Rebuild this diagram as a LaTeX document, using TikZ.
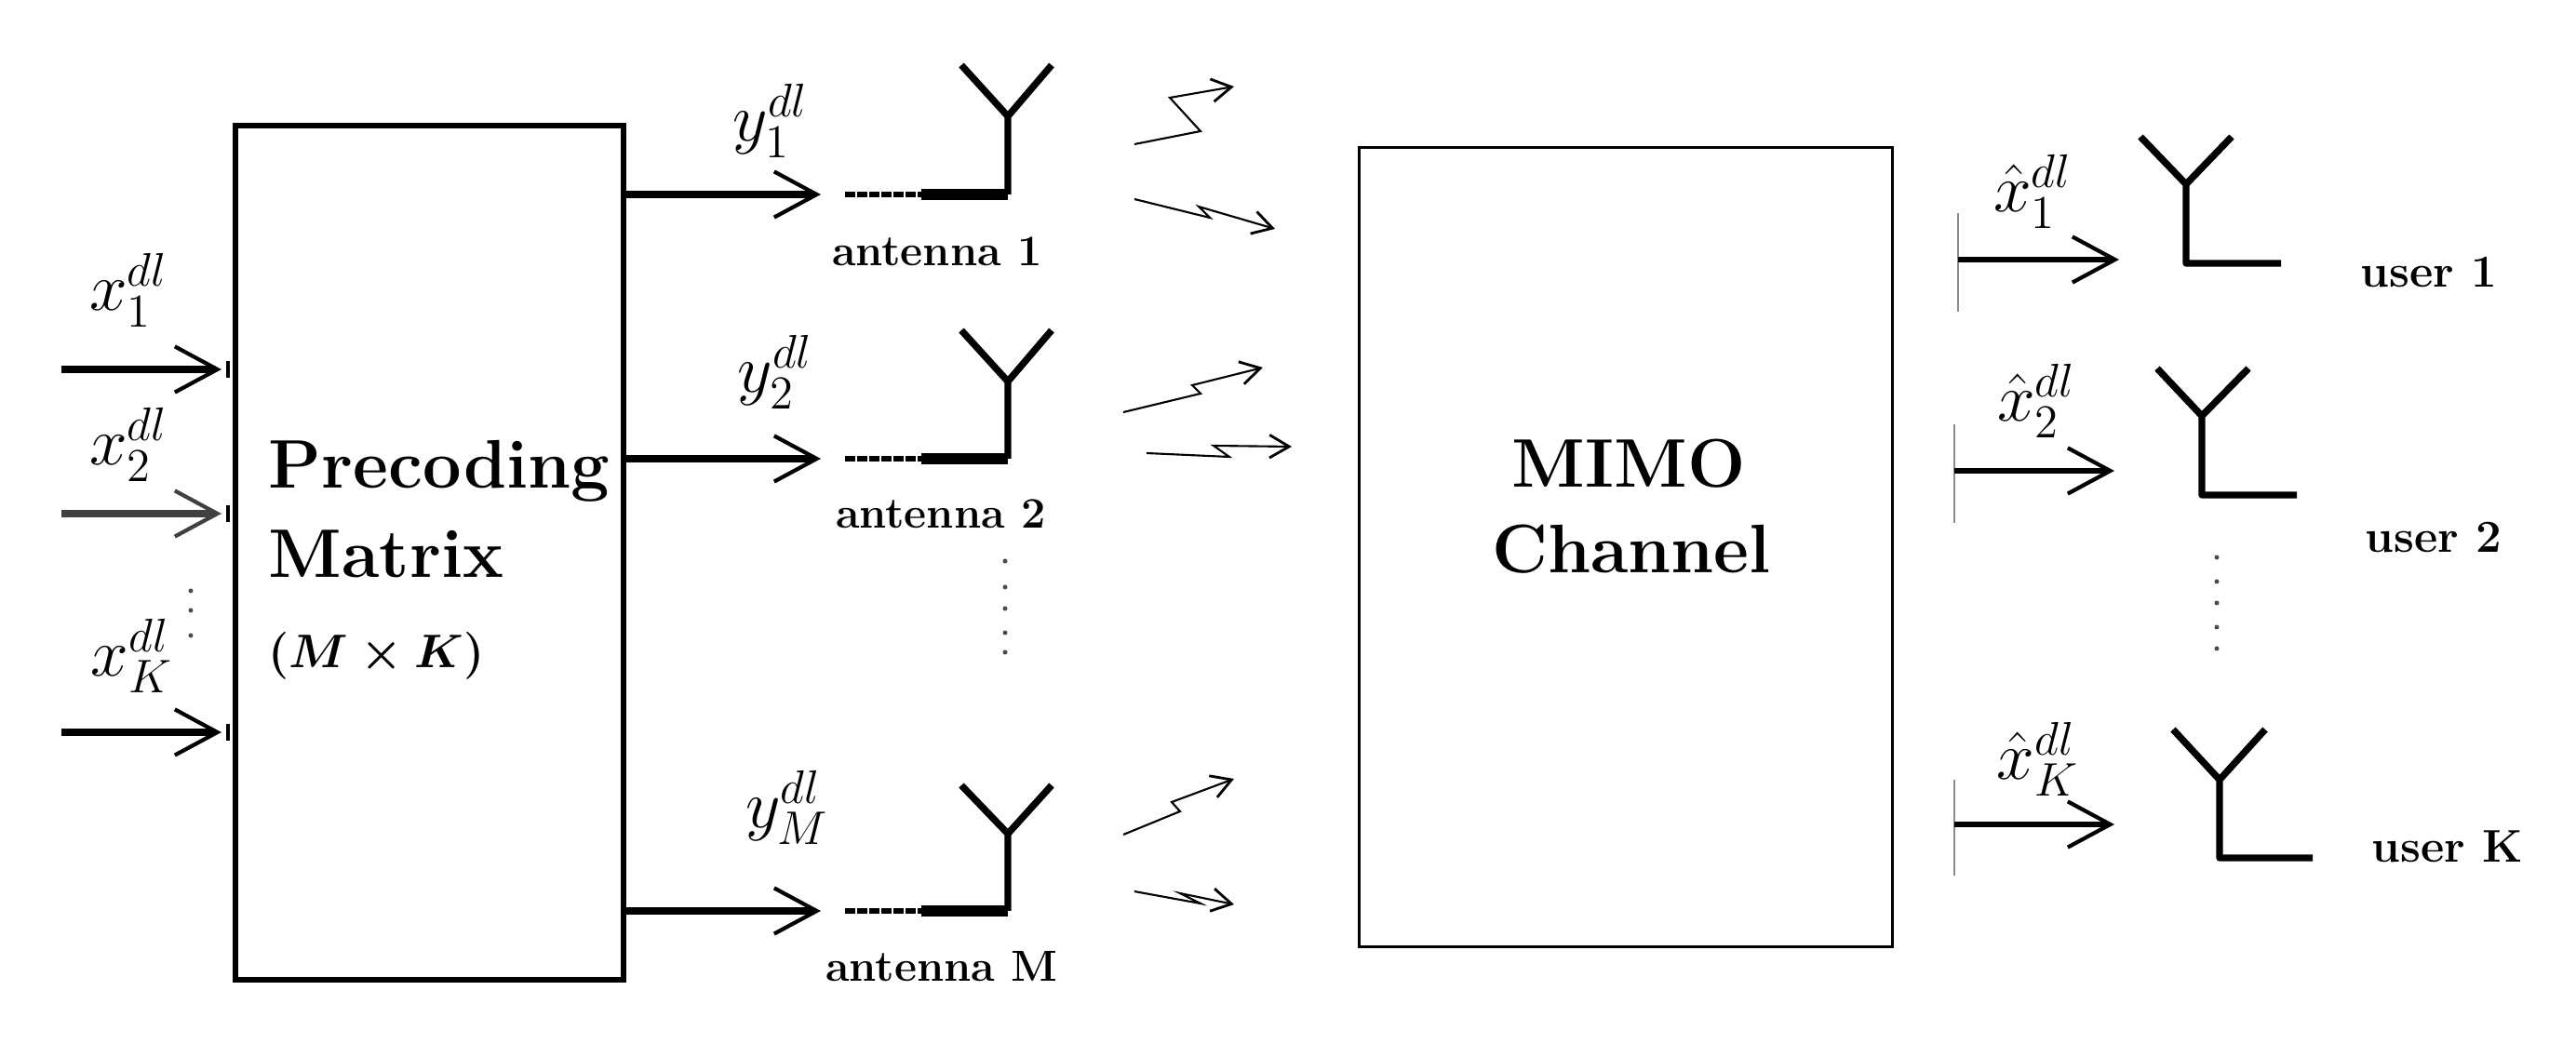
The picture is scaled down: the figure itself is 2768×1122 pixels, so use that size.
\documentclass[tikz,border=0pt]{standalone}
\usetikzlibrary{arrows.meta}

\tikzset{
    block/.style={draw, rectangle, inner sep=0pt},
    blocktext/.style={font=\bfseries\fontsize{21}{25}\selectfont, inner sep=0pt, anchor=base west},
    sigtext/.style={font=\fontsize{20}{24}\selectfont, inner sep=0pt},
    nametext/.style={font=\bfseries\fontsize{14}{17}\selectfont, inner sep=0pt, anchor=base},
    antname/.style={font=\bfseries\fontsize{13.3}{16}\selectfont, inner sep=0pt, anchor=base},
    feed/.style={line width=2.2pt, -{Straight Barb[length=13pt, width=14pt, line width=1.2pt]}},
    radio/.style={line width=.6pt, -{Straight Barb[length=6pt, width=7pt, line width=.8pt]}},
    mast/.style={line width=2.1pt, line join=round},
    stub/.style={line width=3.2pt},
    dotted stub/.style={line width=1.6pt, dash pattern=on 3pt off .7pt},
    tick/.style={line width=.5pt, black!45},
    spot/.style={fill=black!70}
}

\begin{document}
\begin{tikzpicture}[x=.01cm, y=-.01cm]
\useasboundingbox (0,0) rectangle (2768,1122);

% boxes
\node[block, line width=1.7pt, minimum width=4.17cm, minimum height=9.18cm] (precoding) at (461.5,594) {};
\node[block, line width=.9pt, minimum width=5.72cm, minimum height=8.58cm] (mimo) at (1747,588) {};

\node[blocktext] (precodingtext) at (288,525) {Precoding};
\node[blocktext] (matrixtext) at (288,621) {Matrix};
\node[font=\bfseries\fontsize{14.6}{18}\selectfont\boldmath, inner sep=0pt, anchor=west] (sizetext) at (288,705) {$(M\times K)$};
\node[blocktext, anchor=base] (mimotext) at (1750,524) {MIMO};
\node[blocktext, anchor=base] (channeltext) at (1753,616) {Channel};

% inputs
\coordinate (in1) at (66,397);
\coordinate (in2) at (66,552);
\coordinate (in3) at (66,787);
\coordinate (in1e) at (238,397);
\coordinate (in2e) at (238,552);
\coordinate (in3e) at (238,787);
\draw[feed] (in1) -- (in1e);
\draw[feed, black!75] (in2) -- (in2e);
\draw[feed] (in3) -- (in3e);
\foreach \y in {397,552,787} \draw[line width=1pt] (245,\y-9) -- (245,\y+9);
\node[sigtext] (x1) at (138,312) {$x_1^{dl}$};
\node[sigtext] (x2) at (138,478) {$x_2^{dl}$};
\node[sigtext] (xK) at (142,705) {$x_K^{dl}$};
\foreach \y in {635,656,683} \fill[spot] (205,\y) circle (2.5);

% antenna 1
\coordinate (o1) at (670,209);
\coordinate (o1e) at (882,209);
\coordinate (d1) at (908,209);
\coordinate (s1) at (990,209);
\coordinate (f1) at (1083,209);
\coordinate (j1) at (1083,125);
\coordinate (l1) at (1033,70);
\coordinate (r1) at (1130,70);
\draw[feed] (o1) -- (o1e);
\draw[dotted stub] (d1) -- (s1);
\draw[stub] (s1) -- (f1);
\draw[mast] (f1) -- (j1) (l1) -- (j1) -- (r1);
\node[sigtext] (y1) at (828,130) {$y_1^{dl}$};
\node[antname] (ant1) at (1007,286) {antenna 1};

% antenna 2
\coordinate (o2) at (670,493);
\coordinate (o2e) at (882,493);
\coordinate (d2) at (908,493);
\coordinate (s2) at (990,493);
\coordinate (f2) at (1083,493);
\coordinate (j2) at (1083,410);
\coordinate (l2) at (1033,355);
\coordinate (r2) at (1130,355);
\draw[feed] (o2) -- (o2e);
\draw[dotted stub] (d2) -- (s2);
\draw[stub] (s2) -- (f2);
\draw[mast] (f2) -- (j2) (l2) -- (j2) -- (r2);
\node[sigtext] (y2) at (833,400) {$y_2^{dl}$};
\node[antname] (ant2) at (1011,568) {antenna 2};
\foreach \y in {603,631,654,680,701} \fill[spot] (1080,\y) circle (2.5);

% antenna M
\coordinate (o3) at (670,979);
\coordinate (o3e) at (882,979);
\coordinate (d3) at (908,979);
\coordinate (s3) at (990,979);
\coordinate (f3) at (1083,979);
\coordinate (j3) at (1083,896);
\coordinate (l3) at (1033,844);
\coordinate (r3) at (1130,844);
\draw[feed] (o3) -- (o3e);
\draw[dotted stub] (d3) -- (s3);
\draw[stub] (s3) -- (f3);
\draw[mast] (f3) -- (j3) (l3) -- (j3) -- (r3);
\node[sigtext] (yM) at (846,868) {$y_M^{dl}$};
\node[antname] (antM) at (1012,1055) {antenna M};

% radio links
\draw[radio] (1219,155) -- (1290,141) -- (1257,105) -- (1326,93);
\draw[radio] (1219,214) -- (1300,234) -- (1288,222) -- (1370,246);
\draw[radio] (1207,443) -- (1290,423) -- (1281,414) -- (1357,395);
\draw[radio] (1232,487) -- (1321,491) -- (1304,479) -- (1388,480);
\draw[radio] (1207,897) -- (1268,872) -- (1259,862) -- (1326,837);
\draw[radio] (1219,958) -- (1290,971) -- (1268,960) -- (1326,972);

% user 1
\coordinate (t1a) at (2104,229);
\coordinate (t1b) at (2104,335);
\coordinate (u1) at (2104,279);
\coordinate (u1e) at (2277,279);
\coordinate (g1) at (2349,283);
\coordinate (h1) at (2451,283);
\coordinate (k1) at (2349,198);
\coordinate (m1) at (2300,147);
\coordinate (n1) at (2398,147);
\draw[tick] (t1a) -- (t1b);
\draw[feed, line width=1.7pt] (u1) -- (u1e);
\draw[mast] (h1) -- (g1) -- (k1) (m1) -- (k1) -- (n1);
\node[sigtext] (xh1) at (2184,206) {$\hat{x}_1^{dl}$};
\node[nametext] (user1) at (2610,309) {user 1};

% user 2
\coordinate (t2a) at (2100,456);
\coordinate (t2b) at (2100,562);
\coordinate (u2) at (2100,506);
\coordinate (u2e) at (2272,506);
\coordinate (g2) at (2366,532);
\coordinate (h2) at (2468,532);
\coordinate (k2) at (2366,447);
\coordinate (m2) at (2318,396);
\coordinate (n2) at (2416,396);
\draw[tick] (t2a) -- (t2b);
\draw[feed, line width=1.7pt] (u2) -- (u2e);
\draw[mast] (h2) -- (g2) -- (k2) (m2) -- (k2) -- (n2);
\node[sigtext] (xh2) at (2188,431) {$\hat{x}_2^{dl}$};
\node[nametext] (user2) at (2615,594) {user 2};
\foreach \y in {599,625,648,674,697} \fill[spot] (2382,\y) circle (2.5);

% user K
\coordinate (t3a) at (2100,838);
\coordinate (t3b) at (2100,941);
\coordinate (u3) at (2100,886);
\coordinate (u3e) at (2272,886);
\coordinate (g3) at (2385,922);
\coordinate (h3) at (2485,922);
\coordinate (k3) at (2385,838);
\coordinate (m3) at (2335,784);
\coordinate (n3) at (2434,784);
\draw[tick] (t3a) -- (t3b);
\draw[feed, line width=1.7pt] (u3) -- (u3e);
\draw[mast] (h3) -- (g3) -- (k3) (m3) -- (k3) -- (n3);
\node[sigtext] (xhK) at (2190,816) {$\hat{x}_K^{dl}$};
\node[nametext] (userK) at (2630,927) {user K};
\end{tikzpicture}
\end{document}
